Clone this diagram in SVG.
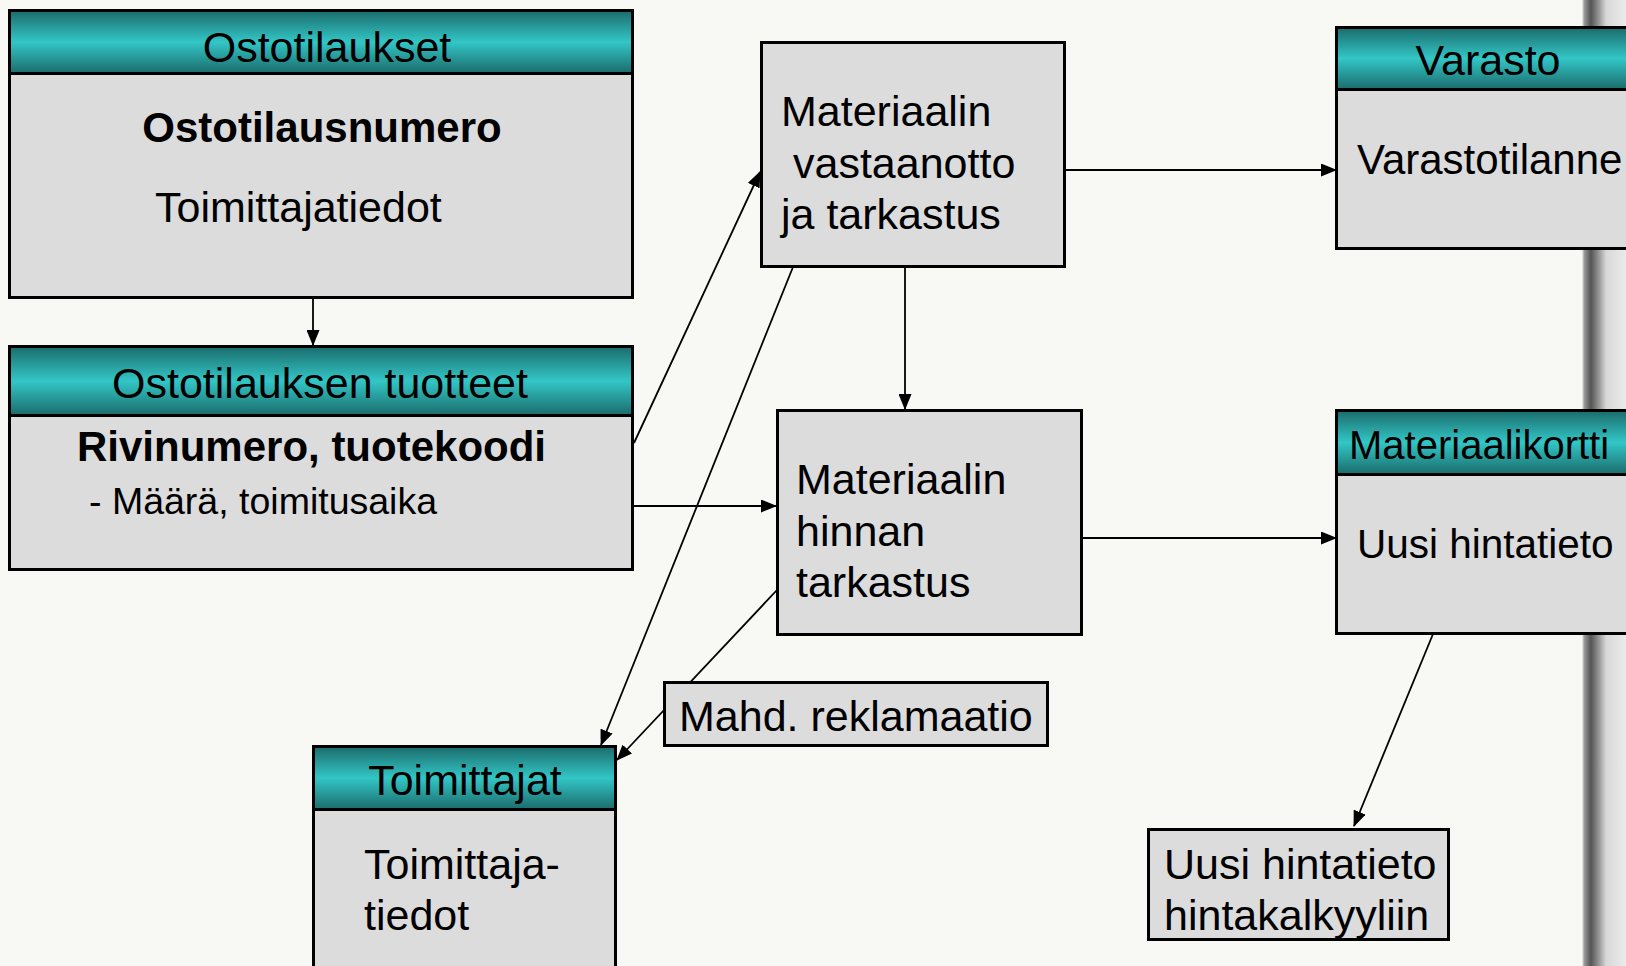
<svg xmlns="http://www.w3.org/2000/svg" width="1626" height="966" viewBox="0 0 1626 966">
<defs>
<linearGradient id="hdr" x1="0" y1="0" x2="0" y2="1">
<stop offset="0" stop-color="#1b6b6b"/>
<stop offset="0.5" stop-color="#33c6c6"/>
<stop offset="1" stop-color="#1b6b6b"/>
</linearGradient>
<linearGradient id="bar" x1="0" y1="0" x2="1" y2="0">
<stop offset="0" stop-color="#f5f5f2"/>
<stop offset="0.05" stop-color="#9a9a9a"/>
<stop offset="0.2" stop-color="#555"/>
<stop offset="0.35" stop-color="#8a8a8a"/>
<stop offset="0.55" stop-color="#d8d8d8"/>
<stop offset="1" stop-color="#ebebeb"/>
</linearGradient>
<marker id="ah" markerWidth="16" markerHeight="13" refX="15" refY="6.5" orient="auto" markerUnits="userSpaceOnUse">
<path d="M0,0 L16,6.5 L0,13 Z" fill="#000"/>
</marker>
</defs>
<style>
.box{fill:#dcdcdc;stroke:#000;stroke-width:3}
.hdr{fill:url(#hdr);stroke:#000;stroke-width:3}
.t{font-family:"Liberation Sans",Arial,sans-serif;font-size:43px;fill:#000}
.b{font-weight:bold;font-size:42px}
.c{text-anchor:middle}
.ln{stroke:#000;stroke-width:1.8;fill:none;marker-end:url(#ah)}
</style>
<rect width="1626" height="966" fill="#f8f8f5"/>
<rect x="1582" y="0" width="44" height="966" fill="url(#bar)"/>

<g id="connectors">
<line class="ln" x1="313" y1="298" x2="313" y2="345"/>
<line class="ln" x1="634" y1="443" x2="760" y2="172"/>
<line class="ln" x1="634" y1="506" x2="776" y2="506"/>
<line class="ln" x1="793" y1="267" x2="601" y2="745"/>
<line class="ln" x1="905" y1="267" x2="905" y2="409"/>
<line class="ln" x1="1065" y1="170" x2="1336" y2="170"/>
<line class="ln" x1="1082" y1="538" x2="1336" y2="538"/>
<line class="ln" x1="777" y1="590" x2="617" y2="760"/>
<line class="ln" x1="1433" y1="634" x2="1354" y2="826"/>
</g>

<g id="ostotilaukset">
<rect class="box" x="9.5" y="10.5" width="623" height="287"/>
<rect class="hdr" x="9.5" y="10.5" width="623" height="63"/>
<text class="t c" x="327" y="62">Ostotilaukset</text>
<text class="t b c" x="322" y="142">Ostotilausnumero</text>
<text class="t" x="155" y="222">Toimittajatiedot</text>
</g>

<g id="tuotteet">
<rect class="box" x="9.5" y="346.5" width="623" height="223"/>
<rect class="hdr" x="9.5" y="346.5" width="623" height="69"/>
<text class="t c" x="320" y="398">Ostotilauksen tuotteet</text>
<text class="t b" x="77" y="461">Rivinumero, tuotekoodi</text>
<text class="t" x="89" y="514" style="font-size:37.5px">- Määrä, toimitusaika</text>
</g>

<g id="vastaanotto">
<rect class="box" x="761.5" y="42.5" width="303" height="224"/>
<text class="t" x="781" y="126">Materiaalin</text>
<text class="t" x="793" y="178">vastaanotto</text>
<text class="t" x="781" y="229">ja tarkastus</text>
</g>

<g id="hinnan">
<rect class="box" x="777.5" y="410.5" width="304" height="224"/>
<text class="t" x="796" y="494">Materiaalin</text>
<text class="t" x="796" y="546">hinnan</text>
<text class="t" x="796" y="597">tarkastus</text>
</g>

<g id="varasto">
<rect class="box" x="1336.5" y="27.5" width="300" height="221"/>
<rect class="hdr" x="1336.5" y="27.5" width="300" height="62"/>
<text class="t c" x="1488" y="75">Varasto</text>
<text class="t" x="1357" y="174" style="font-size:42px">Varastotilanne</text>
</g>

<g id="materiaalikortti">
<rect class="box" x="1336.5" y="410.5" width="300" height="223"/>
<rect class="hdr" x="1336.5" y="410.5" width="300" height="64"/>
<text class="t" x="1349" y="459" style="font-size:40px">Materiaalikortti</text>
<text class="t" x="1357" y="558" style="font-size:40.5px">Uusi hintatieto</text>
</g>

<g id="reklamaatio">
<rect class="box" x="664.5" y="682.5" width="383" height="63"/>
<text class="t" x="679" y="731">Mahd. reklamaatio</text>
</g>

<g id="toimittajat">
<rect class="box" x="313.5" y="746.5" width="302" height="240"/>
<rect class="hdr" x="313.5" y="746.5" width="302" height="63"/>
<text class="t c" x="465" y="795">Toimittajat</text>
<text class="t" x="364" y="879">Toimittaja-</text>
<text class="t" x="364" y="930">tiedot</text>
</g>

<g id="hintakalkyyli">
<rect class="box" x="1148.5" y="829.5" width="300" height="110"/>
<text class="t" x="1164" y="879">Uusi hintatieto</text>
<text class="t" x="1164" y="930">hintakalkyyliin</text>
</g>
</svg>
